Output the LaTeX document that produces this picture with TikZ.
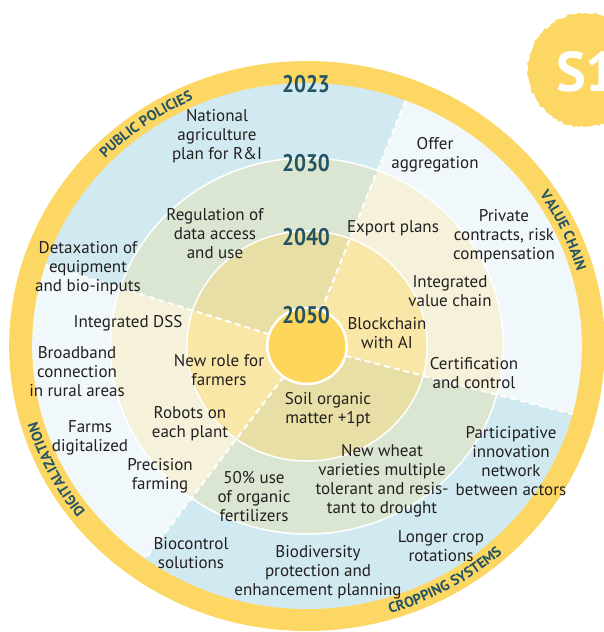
\documentclass[tikz,border=0pt]{standalone}
\usepackage{fontspec}
\setmainfont{PT Sans}
\newfontfamily\narrowfont{PT Sans}[FakeStretch=0.88]
\usepackage{tikz}
\usetikzlibrary{decorations.text}
\usetikzlibrary{decorations.pathmorphing}
\definecolor{ringyellow}{RGB}{253,215,100}
\definecolor{coreyellow}{RGB}{254,214,92}
\definecolor{skyblue}{RGB}{209,234,241}
\definecolor{paleblue}{RGB}{241,248,251}
\definecolor{sage}{RGB}{218,229,210}
\definecolor{cream}{RGB}{246,241,218}
\definecolor{khaki}{RGB}{232,223,166}
\definecolor{butter}{RGB}{249,231,168}
\definecolor{yearteal}{RGB}{36,84,100}
\definecolor{ink}{RGB}{35,31,32}
\newcommand{\ringfont}{\color{yearteal}\bfseries\fontsize{14.5}{14.5}\selectfont}
\newcommand{\slice}[4]{\fill[#4] (#1:#3) arc[start angle=#1, end angle=#2, radius=#3] -- (0,0) -- cycle;}
\newcommand{\ringfill}[3]{\slice{69}{162}{#1}{#2} \slice{162}{234}{#1}{#3} \slice{234}{345}{#1}{#2} \slice{345}{429}{#1}{#3}}
\newcommand{\cutline}[1]{\draw[cut] (#1:38) -- (#1:263);}
\newcommand{\ringtext}[4]{\path[decorate, decoration={text along path, text align=center, text={|\ringfont|#4}}] (#1:#3) arc[start angle=#1, end angle=#2, radius=#3];}
\newcommand{\lbl}[4]{\node[lbl] (#1) at (#2,#3) {#4};}
\tikzset{
  lbl/.style={align=center, text=ink, inner sep=0pt, font=\fontsize{17}{19}\selectfont},
  year/.style={text=yearteal, inner sep=0pt, font=\narrowfont\bfseries\fontsize{24}{24}\selectfont},
  cut/.style={white, line width=2pt, dash pattern=on 6pt off 4pt},
  seam/.style={white, line width=1.5pt}
}
\begin{document}
\begin{tikzpicture}[x=1pt, y=-1pt]
  \useasboundingbox (0,0) rectangle (604,632);

  % badge
  \fill[ringyellow, decorate, decoration={random steps, segment length=3pt, amplitude=1.2pt}] (585,70) circle[radius=57];
  \node[anchor=west, text=white, inner sep=0pt, font=\bfseries\fontsize{56}{56}\selectfont] (badge) at (556,72) {S1};

  % rings
  \begin{scope}[shift={(307,346)}, yscale=-1, xscale=1.045]
    \fill[ringyellow] (0,0) circle[radius=285];
    \ringfill{263}{skyblue}{paleblue}
    \ringfill{188}{sage}{cream}
    \ringfill{115}{khaki}{butter}
    \draw[seam] (0,0) circle[radius=188];
    \draw[seam] (0,0) circle[radius=115];
    \cutline{69}
    \cutline{162}
    \cutline{234}
    \cutline{345}
    \draw[white, line width=2.5pt, fill=coreyellow] (0,0) circle[radius=38];

    % ring titles
    \ringtext{150}{100}{269}{PUBLIC POLICIES}
    \ringtext{50}{0}{269}{VALUE CHAIN}
    \ringtext{232}{182}{269}{DIGITALIZATION}
    \ringtext{272}{327}{279}{CROPPING SYSTEMS}
  \end{scope}

  % years
  \node[year] (y2023) at (306,84) {2023};
  \node[year] (y2030) at (306,163) {2030};
  \node[year] (y2040) at (306,237) {2040};
  \node[year] (y2050) at (306,315) {2050};

  % public policies
  \lbl{natplan}{217}{136}{National\\agriculture\\plan for R\&I}
  \lbl{regdata}{215}{234}{Regulation of\\data access\\and use}
  \lbl{detax}{88}{268}{Detaxation of\\equipment\\and bio-inputs}

  % value chain
  \lbl{offer}{435}{155}{Offer\\aggregation}
  \lbl{private}{504}{236}{Private\\contracts, risk\\compensation}
  \lbl{export}{393}{228}{Export plans}
  \lbl{intvalue}{450}{291}{Integrated\\value chain}
  \lbl{block}{387}{333}{Blockchain\\with AI}
  \lbl{certif}{474}{373}{Certification\\and control}

  % digitalization
  \lbl{dss}{128}{323}{Integrated DSS}
  \lbl{broad}{77}{372}{Broadband\\connection\\in rural areas}
  \lbl{farms}{90}{438}{Farms\\digitalized}
  \lbl{newrole}{219}{370}{New role for\\farmers}
  \lbl{robots}{190}{424}{Robots on\\each plant}
  \lbl{precis}{160}{476}{Precision\\farming}

  % cropping systems
  \lbl{soil}{328}{410}{Soil organic\\matter +1pt}
  \lbl{wheat}{382}{481}{New wheat\\varieties multiple\\tolerant and resis-\\tant to drought}
  \lbl{partic}{511}{461}{Participative\\innovation\\network\\between actors}
  \lbl{rotat}{441}{546}{Longer crop\\rotations}
  \lbl{biodiv}{318}{572}{Biodiversity\\protection and\\enhancement planning}
  \lbl{organic}{254}{497}{50\% use\\of organic\\fertilizers}
  \lbl{biocon}{191}{553}{Biocontrol\\solutions}
\end{tikzpicture}
\end{document}
